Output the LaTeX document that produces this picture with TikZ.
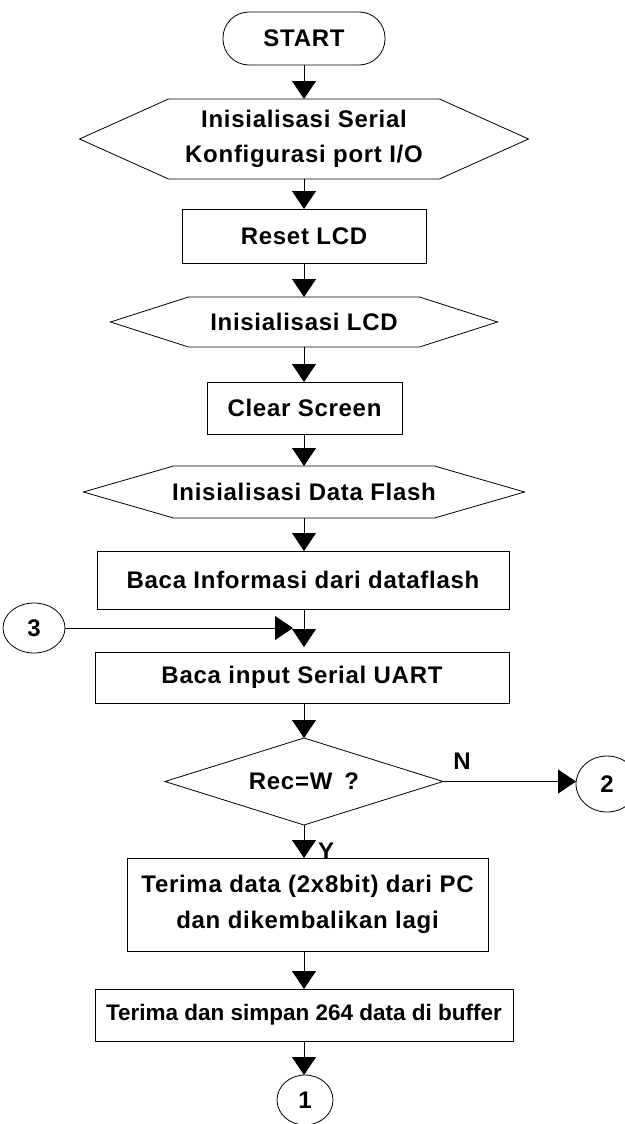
\documentclass[tikz,border=0pt]{standalone}
\usepackage{fontspec}
\newfontfamily\flowfont{Liberation Sans Bold}[LetterSpace=3]
\newfontfamily\flowfontnarrow{Liberation Sans Bold}
\usetikzlibrary{arrows.meta,shapes.geometric}
\newcommand\hexoutline[2]{\draw[outline] ([xshift=#2]#1.north west) -- ([xshift=-#2]#1.north east) -- (#1.east) -- ([xshift=-#2]#1.south east) -- ([xshift=#2]#1.south west) -- (#1.west) -- cycle;}
\tikzset{
  every node/.style={font=\flowfont\fontsize{24}{35}\selectfont, inner sep=0pt, outer sep=0pt, align=center},
  outline/.style={line width=0.8pt},
  procbox/.style={draw, rectangle, line width=0.8pt},
  hexbox/.style={rectangle},
  connector/.style={draw, ellipse, line width=0.8pt},
  terminal/.style={draw, rectangle, rounded corners=26pt, line width=0.8pt},
  arr/.style={line width=0.8pt, -{Triangle[width=24pt,length=18pt]}},
}
\begin{document}
\begin{tikzpicture}[x=1pt,y=-1pt]
\useasboundingbox (0,0) rectangle (624,1124);
\node[terminal, minimum width=162pt, minimum height=53pt] (start) at (304,38.5) {START};
\node[hexbox, minimum width=449pt, minimum height=80pt] (hex1) at (304,139) {Inisialisasi Serial\\Konfigurasi port I/O};
\hexoutline{hex1}{89pt}
\node[procbox, minimum width=244pt, minimum height=54pt] (reset) at (304,236) {Reset LCD};
\node[hexbox, minimum width=387pt, minimum height=50pt] (hex2) at (304,322) {Inisialisasi LCD};
\hexoutline{hex2}{78pt}
\node[procbox, minimum width=195pt, minimum height=52pt] (clear) at (304.5,408) {Clear Screen};
\node[hexbox, minimum width=441pt, minimum height=52pt] (hex3) at (304,492) {Inisialisasi Data Flash};
\hexoutline{hex3}{90pt}
\node[procbox, minimum width=412pt, minimum height=58pt] (info) at (303,580) {Baca Informasi dari dataflash};
\node[procbox, minimum width=414pt, minimum height=51pt] (input) at (302,677.5) {Baca input Serial UART};
\node[hexbox, minimum width=278pt, minimum height=87pt] (dec) at (304,781.5) {Rec=W\hspace{0.5em}?};
\draw[outline] (dec.north) -- (dec.east) -- (dec.south) -- (dec.west) -- cycle;
\node[procbox, minimum width=361pt, minimum height=93pt] (recv) at (307.5,904.5) {Terima data (2x8bit) dari PC\\[1pt]dan dikembalikan lagi};
\node[procbox, minimum width=418pt, minimum height=52pt, font=\flowfontnarrow\fontsize{22.5}{30}\selectfont] (store) at (304,1015) {Terima dan simpan 264 data di buffer};
\node[connector, minimum width=56pt, minimum height=50pt] (c1) at (305,1100) {1};
\node[connector, minimum width=62pt, minimum height=56pt] (c2) at (607,784) {2};
\node[connector, minimum width=62pt, minimum height=50pt] (c3) at (34,628) {3};
\node (nlab) at (462,761) {N};
\node (ylab) at (326,851) {Y};
\coordinate (join3) at (293,628);

\draw[arr] (start.south) -- (start.south |- hex1.north);
\draw[arr] (hex1.south) -- (hex1.south |- reset.north);
\draw[arr] (reset.south) -- (reset.south |- hex2.north);
\draw[arr] (hex2.south) -- (hex2.south |- clear.north);
\draw[arr] (hex2.south |- clear.south) -- (hex2.south |- hex3.north);
\draw[arr] (hex3.south) -- (hex3.south |- info.north);
\draw[arr] (hex3.south |- info.south) -- ([yshift=5pt]hex3.south |- input.north);
\draw[arr] (c3.east) -- (join3);
\draw[arr] (hex3.south |- input.south) -- (dec.north);
\draw[arr] (dec.east) -- (dec.east -| c2.west);
\draw[arr] (dec.south) -- (dec.south |- recv.north);
\draw[arr] (dec.south |- recv.south) -- (dec.south |- store.north);
\draw[arr] (dec.south |- store.south) -- (dec.south |- c1.north);
\end{tikzpicture}
\end{document}
